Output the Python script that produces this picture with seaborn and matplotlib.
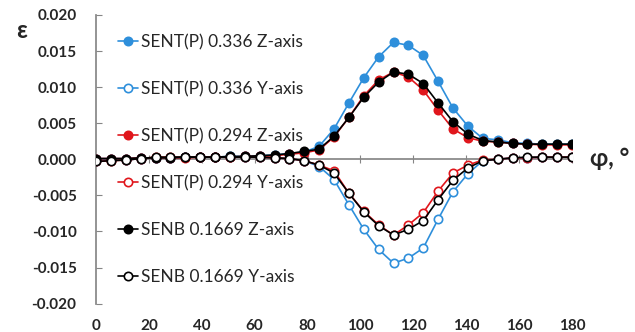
import matplotlib
matplotlib.use("Agg")
import matplotlib.pyplot as plt
import seaborn as sns
import numpy as np

sns.set_theme(style="white")
plt.rcParams['font.family'] = ['Lato', 'DejaVu Sans']
plt.rcParams['axes.unicode_minus'] = False

angles = [0, 5.625, 11.25, 16.875, 22.5, 28.125, 33.75, 39.375, 45, 50.625,
          56.25, 61.875, 67.5, 73.125, 78.75, 84.375, 90, 95.625, 101.25, 106.875,
          112.5, 118.125, 123.75, 129.375, 135, 140.625, 146.25, 151.875, 157.5,
          163.125, 168.75, 174.375, 180]

sentp336_z = [0.0001, 0.0001, 0.0001, 0.0002, 0.0002, 0.0002, 0.0003, 0.0003, 0.0003, 0.0004,
              0.0004, 0.0005, 0.0006, 0.0008, 0.0010, 0.0018, 0.0042, 0.0078, 0.0113, 0.0142,
              0.0162, 0.0158, 0.0144, 0.0108, 0.0071, 0.0046, 0.0029, 0.0027, 0.0023,
              0.0022, 0.0021, 0.0021, 0.0021]
sentp336_y = [-0.0002, -0.0001, -0.0001, 0.0001, 0.0002, 0.0002, 0.0003, 0.0003, 0.0003, 0.0003,
              0.0003, 0.0003, 0.0002, 0.0001, -0.0002, -0.0010, -0.0028, -0.0063, -0.0097, -0.0125,
              -0.0144, -0.0137, -0.0123, -0.0083, -0.0045, -0.0020, -0.0002, 0.0000, 0.0002,
              0.0002, 0.0003, 0.0003, 0.0003]
sentp294_z = [0.0001, 0.0001, 0.0001, 0.0002, 0.0002, 0.0002, 0.0002, 0.0003, 0.0003, 0.0003,
              0.0004, 0.0004, 0.0005, 0.0007, 0.0009, 0.0013, 0.0031, 0.0058, 0.0088, 0.0110,
              0.0121, 0.0114, 0.0096, 0.0068, 0.0042, 0.0030, 0.0025, 0.0024, 0.0022,
              0.0021, 0.0020, 0.0020, 0.0020]
sentp294_y = [-0.0003, -0.0002, -0.0001, 0.0001, 0.0003, 0.0003, 0.0003, 0.0003, 0.0003, 0.0003,
              0.0003, 0.0003, 0.0002, 0.0001, -0.0002, -0.0008, -0.0016, -0.0047, -0.0072, -0.0091,
              -0.0105, -0.0091, -0.0074, -0.0044, -0.0019, -0.0008, -0.0001, 0.0000, 0.0002,
              0.0002, 0.0003, 0.0003, 0.0003]
senb_z = [0.0001, 0.0001, 0.0001, 0.0002, 0.0002, 0.0002, 0.0003, 0.0003, 0.0003, 0.0004,
          0.0004, 0.0005, 0.0006, 0.0008, 0.0011, 0.0014, 0.0032, 0.0058, 0.0086, 0.0107,
          0.0121, 0.0118, 0.0105, 0.0078, 0.0052, 0.0035, 0.0026, 0.0024, 0.0022,
          0.0021, 0.0021, 0.0021, 0.0021]
senb_y = [-0.0003, -0.0002, -0.0001, 0.0001, 0.0003, 0.0003, 0.0003, 0.0003, 0.0003, 0.0003,
          0.0003, 0.0003, 0.0002, 0.0001, -0.0002, -0.0008, -0.0019, -0.0047, -0.0073, -0.0092,
          -0.0105, -0.0097, -0.0085, -0.0056, -0.0029, -0.0012, -0.0002, 0.0000, 0.0002,
          0.0003, 0.0003, 0.0003, 0.0003]

labels = ["SENT(P) 0.336 Z-axis", "SENT(P) 0.336 Y-axis",
          "SENT(P) 0.294 Z-axis", "SENT(P) 0.294 Y-axis",
          "SENB 0.1669 Z-axis", "SENB 0.1669 Y-axis"]
series = [sentp336_z, sentp336_y, sentp294_z, sentp294_y, senb_z, senb_y]
colors = ["#2E8FDB", "#2E8FDB", "#E0161C", "#E0161C", "#000000", "#000000"]
filled = [True, False, True, False, True, False]

fig = plt.figure(figsize=(6.35, 3.32), dpi=100)
ax = fig.add_axes([96/635, 1-303.6/332, 476/635, (303.6-15)/332])

for vals, lab, col, fil in zip(series, labels, colors, filled):
    sns.lineplot(x=angles, y=vals, ax=ax, color=col, linewidth=1.2,
                 marker='o', markersize=6, markeredgewidth=1.2,
                 markeredgecolor=col, markerfacecolor=col if fil else 'white',
                 label=lab, zorder=3)

ax.set_xlim(0, 180)
ax.set_ylim(-0.02, 0.02)
ax.set_yticks(np.arange(-0.02, 0.0201, 0.005))
ax.yaxis.set_major_formatter(matplotlib.ticker.FormatStrFormatter('%.3f'))
ax.set_xticks(range(0, 181, 20))

gray = '#868686'
ax.spines['top'].set_visible(False)
ax.spines['right'].set_visible(False)
ax.spines['left'].set_color(gray)
ax.spines['bottom'].set_color(gray)
ax.spines['bottom'].set_position(('data', 0))
ax.spines['bottom'].set_zorder(1)
ax.tick_params(axis='y', direction='in', length=4, color=gray, width=0.8,
               labelsize=11, pad=14, left=True)
ax.tick_params(axis='x', direction='inout', length=6, color=gray, width=0.8,
               labelbottom=False, bottom=True)
for t in ax.get_yticklabels():
    t.set_fontweight('bold')

sec = ax.secondary_xaxis(0.0)
sec.set_xticks(range(0, 181, 20))
sec.spines['bottom'].set_visible(False)
sec.tick_params(length=0, pad=11, labelsize=11)
for t in sec.get_xticklabels():
    t.set_fontweight('bold')

ax.set_xlabel('')
ax.set_ylabel('')
ax.grid(False)

leg = ax.legend(loc='upper left', bbox_to_anchor=(118/635, 1-34/332),
                bbox_transform=fig.transFigure, frameon=False, fontsize=12.5,
                handlelength=1.15, handletextpad=0.15, labelspacing=1.78,
                borderpad=0, borderaxespad=0)

fig.text(22/635, 1-30/332, 'ε', fontsize=17, fontweight='bold',
         ha='center', va='center')
fig.text(590/635, 1-159/332, 'φ, °', fontsize=17, fontweight='bold',
         ha='left', va='center')

fig.savefig('out.png', dpi=100)
